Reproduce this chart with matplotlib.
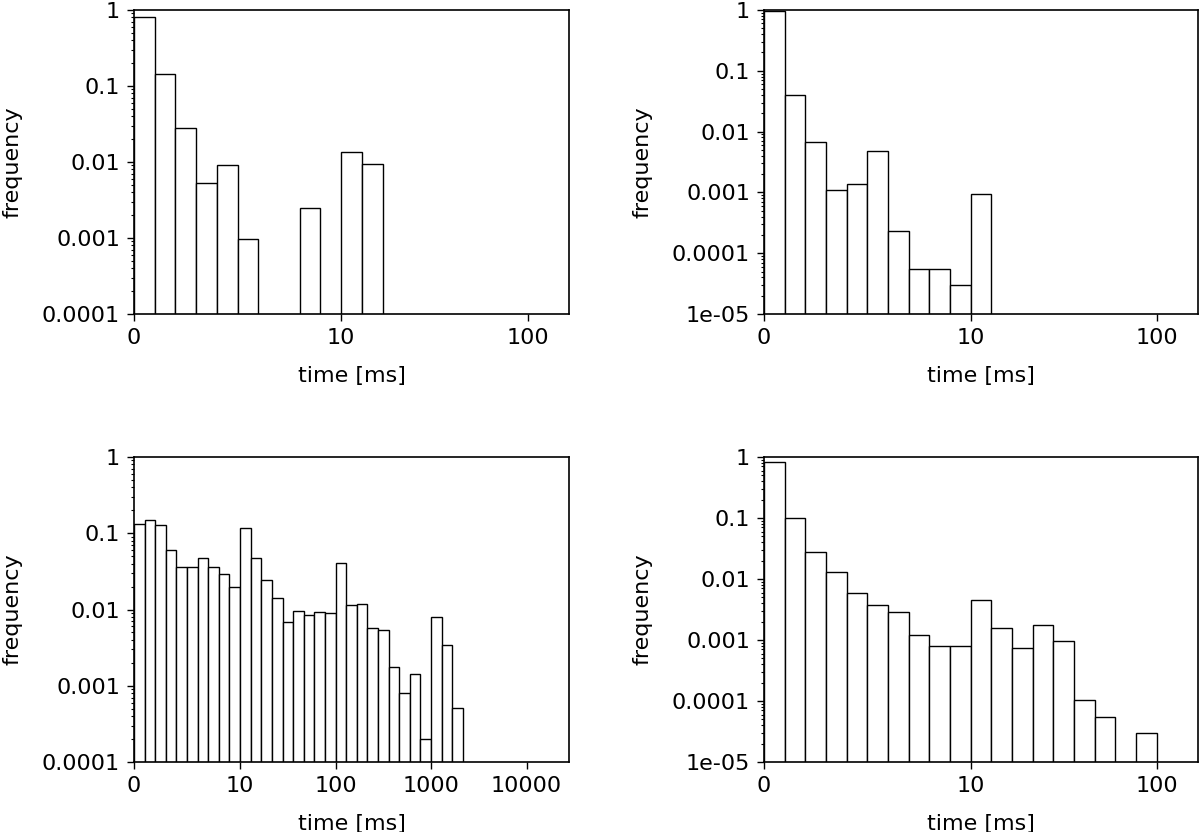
"""Four log-frequency histograms of response times (bins on a log-like index axis)."""
import matplotlib

matplotlib.use("Agg")

import numpy as np
import matplotlib.pyplot as plt
from matplotlib.ticker import FuncFormatter, LogLocator, NullLocator

# bar heights per bin index (None = empty bin)
freq_tl = [0.80, 0.143, 0.0282, 0.0052, 0.00914, 0.00091, None, None, 0.00242, None, 0.0133, 0.0094]
freq_tr = [0.96, 0.0403, 0.00675, 0.00111, 0.00138, 0.0048, 0.000224, 4.9e-5, 4.9e-5, 2.45e-5, 0.00092]
freq_bl = [0.131, 0.148, 0.127, 0.0605, 0.0355, 0.0355, 0.048, 0.0362, 0.029, 0.0198,
           0.116, 0.047, 0.0242, 0.0142, 0.00689, 0.0094, 0.0085, 0.00914, 0.00904, 0.0409,
           0.0114, 0.0119, 0.00564, 0.0053, 0.00169, 0.00076, 0.00137, 0.000152, 0.00786, 0.00334,
           0.000456]
freq_br = [0.839, 0.1, 0.0282, 0.0129, 0.006, 0.00372, 0.00289, 0.00119, 0.00079, 0.00079,
           0.00455, 0.00154, 0.000744, 0.00173, 0.000957, 0.0001, 5.0e-5, None, 2.5e-5]

# x tick positions (bin index) and labels
ticks_short = [0, 10, 19]
labels_short = ["0", "10", "100"]
ticks_long = [0, 10, 19, 28, 37]
labels_long = ["0", "10", "100", "1000", "10000"]

panels = [
    (freq_tl, ticks_short, labels_short, 21, 1e-4),
    (freq_tr, ticks_short, labels_short, 21, 1e-5),
    (freq_bl, ticks_long, labels_long, 41, 1e-4),
    (freq_br, ticks_short, labels_short, 21, 1e-5),
]

# axes boxes in pixels: left, bottom, right, top (measured from the top-left corner)
W, H = 1200, 832
boxes = [
    (134, 314, 569, 10),
    (764, 314, 1198, 10),
    (134, 762, 569, 457),
    (764, 762, 1198, 457),
]

plt.rcParams["font.family"] = "DejaVu Sans"
plt.rcParams["font.size"] = 16

fig = plt.figure(figsize=(12, 8.32), dpi=100)

for (vals, ticks, labels, xmax, ymin), (l, b, r, t) in zip(panels, boxes):
    ax = fig.add_axes([l / W, 1 - b / H, (r - l) / W, (b - t) / H])
    idx = np.array([i for i, v in enumerate(vals) if v is not None])
    heights = np.array([v for v in vals if v is not None])
    ax.bar(idx, heights, width=1.0, align="edge", bottom=ymin * 0.5,
           facecolor="white", edgecolor="black", linewidth=1.0)
    ax.set_yscale("log")
    ax.set_ylim(ymin, 1)
    ax.set_xlim(0, xmax)
    ax.set_xticks(ticks)
    ax.set_xticklabels(labels)
    ax.xaxis.set_minor_locator(NullLocator())
    ax.yaxis.set_major_locator(LogLocator(base=10, numticks=10))
    ax.yaxis.set_minor_locator(LogLocator(base=10, subs=np.arange(2, 10), numticks=10))
    ax.yaxis.set_major_formatter(FuncFormatter(lambda v, pos: "{:g}".format(v)))
    ax.tick_params(axis="both", which="major", length=5, width=1.0, labelsize=16, pad=5)
    ax.tick_params(axis="y", which="minor", length=2.5, width=0.8)
    for s in ax.spines.values():
        s.set_linewidth(1.2)
    ax.set_xlabel("time [ms]", fontsize=16, labelpad=13)
    ax.set_ylabel("frequency", fontsize=16, labelpad=14)

fig.savefig("out.png", dpi=100)
plt.close(fig)
